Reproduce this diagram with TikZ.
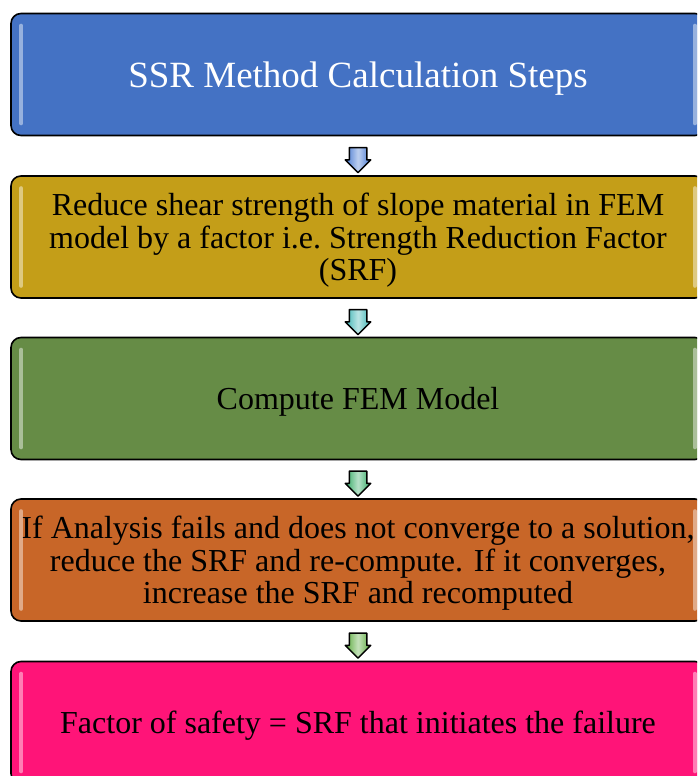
\documentclass[tikz,border=0pt]{standalone}
\usepackage{fontspec}
\setmainfont{Liberation Serif}
\usepackage{xcolor}
\usepackage{tikz}
\usetikzlibrary{arrows.meta,positioning,calc,shapes.arrows}

\definecolor{titleblue}{RGB}{68,114,196}
\definecolor{reducegold}{RGB}{196,158,24}
\definecolor{computegreen}{RGB}{102,140,70}
\definecolor{checkorange}{RGB}{200,102,40}
\definecolor{safetypink}{RGB}{255,20,120}
\definecolor{arrowblue}{RGB}{70,120,210}
\definecolor{arrowteal}{RGB}{60,180,180}
\definecolor{arrowmint}{RGB}{50,170,100}
\definecolor{arrowleaf}{RGB}{90,170,60}

\begin{document}
\begin{tikzpicture}[
    x=1pt, y=1pt,
    stepbox/.style={rectangle, draw=black, line width=1.6pt, rounded corners=10pt,
                    minimum width=694pt, minimum height=122pt, inner sep=0pt, text depth=0pt,
                    align=center, font=\fontsize{32}{32.5}\selectfont},
    gloss/.style={line width=4pt, line cap=round, opacity=0.75},
    downarrow/.style={single arrow, draw=black, line width=1.5pt, line join=round,
                      shape border rotate=270, inner xsep=8pt, inner ysep=0pt,
                      minimum height=25pt, minimum width=24pt, single arrow head extend=4pt,
                      left color=#1, right color=#1, middle color=#1!35!white}
]
\useasboundingbox (0,0) rectangle (697,-776);
\clip (0,0) rectangle (697,-776);

% the five steps, top to bottom
\node[stepbox, fill=titleblue, text=white, font=\fontsize{37}{40}\selectfont]
    (title) at (358,-74.5) {SSR Method Calculation Steps};
\node[stepbox, fill=reducegold] (reduce) at (358,-237)
    {Reduce shear strength of slope material in FEM\\model by a factor i.e.\ Strength Reduction Factor\\(SRF)};
\node[stepbox, fill=computegreen] (compute) at (358,-398.5) {Compute FEM Model};
\node[stepbox, fill=checkorange] (check) at (358,-560)
    {If Analysis fails and does not converge to a solution,\\reduce the SRF and re-compute. If it converges,\\increase the SRF and recomputed};
\node[stepbox, fill=safetypink] (safety) at (358,-722.5)
    {Factor of safety = SRF that initiates the failure};

% light strips at the box sides
\foreach \b/\c in {title/titleblue, reduce/reducegold, compute/computegreen,
                   check/checkorange, safety/safetypink} {
    \draw[gloss, \c!40!white] ([xshift=11pt,yshift=-13pt]\b.north west) -- ([xshift=11pt,yshift=13pt]\b.south west);
    \draw[gloss, \c!40!white] ([xshift=-11pt,yshift=-13pt]\b.north east) -- ([xshift=-11pt,yshift=13pt]\b.south east);
}

% block arrows between the steps
\node[downarrow=arrowblue] (a1) at ($(title.south)!0.5!(reduce.north)$) {};
\node[downarrow=arrowteal] (a2) at ($(reduce.south)!0.5!(compute.north)$) {};
\node[downarrow=arrowmint] (a3) at ($(compute.south)!0.5!(check.north)$) {};
\node[downarrow=arrowleaf] (a4) at ($(check.south)!0.5!(safety.north)$) {};

\end{tikzpicture}
\end{document}
